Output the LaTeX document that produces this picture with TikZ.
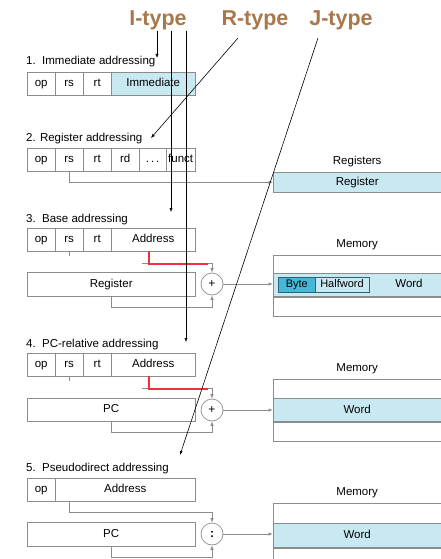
\documentclass[tikz,border=0pt]{standalone}
\usepackage{fontspec}
\setmainfont{Liberation Sans}
\usetikzlibrary{arrows.meta,positioning}

\definecolor{regblue}{HTML}{C9E9F2}
\definecolor{bytecyan}{HTML}{45B8D8}
\definecolor{byteedge}{HTML}{2A6478}
\definecolor{typebrown}{HTML}{A8784A}
\definecolor{boxgray}{HTML}{8C8C8C}
\definecolor{addrred}{HTML}{F2303C}

\begin{document}
\begin{tikzpicture}[x=1pt, y=-1pt,
    field/.style={draw=boxgray, anchor=north west, minimum height=23pt, inner sep=0pt, text height=8.5pt, text depth=2.5pt, font=\fontsize{11.5}{13}\selectfont},
    memrow/.style={draw=boxgray, anchor=north west, minimum width=168pt, inner sep=0pt, text height=8.5pt, text depth=2.5pt, font=\fontsize{11.5}{13}\selectfont},
    memlabel/.style={inner sep=0pt, text height=8.5pt, text depth=2.5pt, font=\fontsize{11.5}{13}\selectfont},
    caption/.style={anchor=base west, inner sep=0pt, font=\fontsize{11.5}{13}\selectfont},
    typelabel/.style={anchor=base, inner sep=0pt, text=typebrown, font=\bfseries\fontsize{21.5}{24}\selectfont},
    adder/.style={circle, draw=boxgray, line width=0.7pt, minimum size=22pt, inner sep=0pt, font=\fontsize{12}{12}\selectfont},
    wire/.style={draw=boxgray, line width=0.7pt},
    tip/.style={-{Latex[length=4.5pt,width=3.5pt]}},
    redwire/.style={draw=addrred, line width=1.6pt},
    pointer/.style={draw=black, line width=0.6pt, -{Latex[length=4pt,width=3.2pt]}}]

  \clip (0,0) rectangle (441,559);

  % Instruction type labels
  \node[typelabel] (ityp) at (158,26) {I-type};
  \node[typelabel] (rtyp) at (255,26) {R-type};
  \node[typelabel] (jtyp) at (341,26) {J-type};

  % Captions
  \node[caption] (cap1) at (26,65) {1.\ \ Immediate addressing};
  \node[caption] (cap2) at (26,141) {2. Register addressing};
  \node[caption] (cap3) at (26,222) {3.\ \ Base addressing};
  \node[caption] (cap4) at (26,347) {4.\ \ PC-relative addressing};
  \node[caption] (cap5) at (26,471) {5.\ \ Pseudodirect addressing};

  % op, rs, rt fields of the first four formats
  \foreach \s/\y in {1/72, 2/148, 3/228, 4/353} {
    \node[field, minimum width=28pt] (op\s) at (27,\y) {op};
    \node[field, minimum width=28pt] (rs\s) at (55,\y) {rs};
    \node[field, minimum width=28pt] (rt\s) at (83,\y) {rt};
  }
  \node[field, minimum width=84pt, fill=regblue] (imm1) at (111,72) {Immediate};
  \node[field, minimum width=28pt] (rd2) at (111,148) {rd};
  \node[field, minimum width=27pt] (dots2) at (139,148) {.\,.\,.};
  \node[field, minimum width=29pt] (funct2) at (166,148) {funct};
  \node[field, minimum width=84pt] (addr3) at (111,228) {Address};
  \node[field, minimum width=84pt] (addr4) at (111,353) {Address};
  \node[field, minimum width=28pt] (op5) at (27,478) {op};
  \node[field, minimum width=140pt] (addr5) at (55,478) {Address};

  % Register / PC boxes and adders
  \node[field, minimum width=168pt, minimum height=24pt] (reg3) at (27,272) {Register};
  \node[field, minimum width=168pt] (pc4) at (27,398) {PC};
  \node[field, minimum width=168pt, minimum height=24pt] (pc5) at (27,522) {PC};
  \node[adder] (add3) at (212,284) {+};
  \node[adder] (add4) at (212,410) {+};
  \node[adder] (add5) at (212,534) {\textbf{:}};

  % Register file
  \node[memrow, minimum height=20pt, fill=regblue] (regs2) at (273,172) {Register};
  \node[memlabel, above=4.5pt of regs2] (regslbl) {Registers};

  % Memory of format 3
  \node[memrow, minimum height=18pt] (m3a) at (273,255) {};
  \node[memrow, minimum height=23pt, fill=regblue, below=0pt of m3a] (m3b) {};
  \node[memrow, minimum height=19pt, below=0pt of m3b] (m3c) {};
  \node[memlabel, above=4.5pt of m3a] (mem3lbl) {Memory};
  \node[draw=byteedge, line width=0.7pt, anchor=north west, minimum width=91pt, minimum height=15pt, inner sep=0pt] (half3) at (278,277) {};
  \node[draw=byteedge, line width=0.7pt, fill=bytecyan, anchor=north west, minimum width=37pt, minimum height=15pt, inner sep=0pt, text height=8pt, text depth=2.5pt, font=\fontsize{11}{12}\selectfont] (byte3) at (278,277) {Byte};
  \node[memlabel, font=\fontsize{11}{12}\selectfont] (hw3) at (342,284.5) {Halfword};
  \node[memlabel] (word3) at (409,284.5) {Word};

  % Memory of format 4
  \node[memrow, minimum height=19pt] (m4a) at (273,379) {};
  \node[memrow, minimum height=23pt, fill=regblue, below=0pt of m4a] (m4b) {Word};
  \node[memrow, minimum height=19pt, below=0pt of m4b] (m4c) {};
  \node[memlabel, above=4.5pt of m4a] (mem4lbl) {Memory};

  % Memory of format 5
  \node[memrow, minimum height=20pt] (m5a) at (273,503) {};
  \node[memrow, minimum height=24pt, fill=regblue, below=0pt of m5a] (m5b) {Word};
  \node[memrow, minimum height=20pt, below=0pt of m5b] (m5c) {};
  \node[memlabel, above=4.5pt of m5a] (mem5lbl) {Memory};

  % Datapath wires
  \draw[wire, tip] (rs2.south) |- (regs2.west);

  \coordinate (stub3) at (142,263);
  \coordinate (red3) at (208,264);
  \draw[wire] (rs3.south) -- ++(0,5);
  \draw[wire, tip] (stub3) -| (add3.north);
  \draw[redwire] ([xshift=-4pt]addr3.south) |- (red3);
  \draw[wire, tip] (reg3.south) -- ++(0,11) -| (add3.south);
  \draw[wire, tip] (add3.east) -- (add3.east -| m3b.west);

  \coordinate (stub4) at (142,388);
  \coordinate (red4) at (208,389);
  \draw[wire] (rs4.south) -- ++(0,5);
  \draw[wire, tip] (stub4) -| (add4.north);
  \draw[redwire] ([xshift=-4pt]addr4.south) |- (red4);
  \draw[wire, tip] (pc4.south) -- ++(0,11) -| (add4.south);
  \draw[wire, tip] (add4.east) -- (add4.east -| m4b.west);

  \draw[wire, tip] ([xshift=14pt]op5.south east) -- ++(0,11) -| (add5.north);
  \draw[wire, tip] (pc5.south) -- ++(0,11) -| (add5.south);
  \draw[wire, tip] (add5.east) -- (add5.east -| m5b.west);

  % Pointers from the type labels
  \coordinate (rfrom) at (238,38);
  \coordinate (jfrom) at (318,38);
  \coordinate (ito1) at (157,58);
  \coordinate (ito3) at (171,212);
  \coordinate (ito4) at (186,342);
  \coordinate (rto2) at (151,138);
  \coordinate (jto5) at (180,455);
  \draw[pointer] ([xshift=-1pt]ityp.south) -- (ito1);
  \draw[pointer] ([xshift=13pt]ityp.south) -- (ito3);
  \draw[pointer] ([xshift=28pt]ityp.south) -- (ito4);
  \draw[pointer] (rfrom) -- (rto2);
  \draw[pointer] (jfrom) -- (jto5);
\end{tikzpicture}
\end{document}
